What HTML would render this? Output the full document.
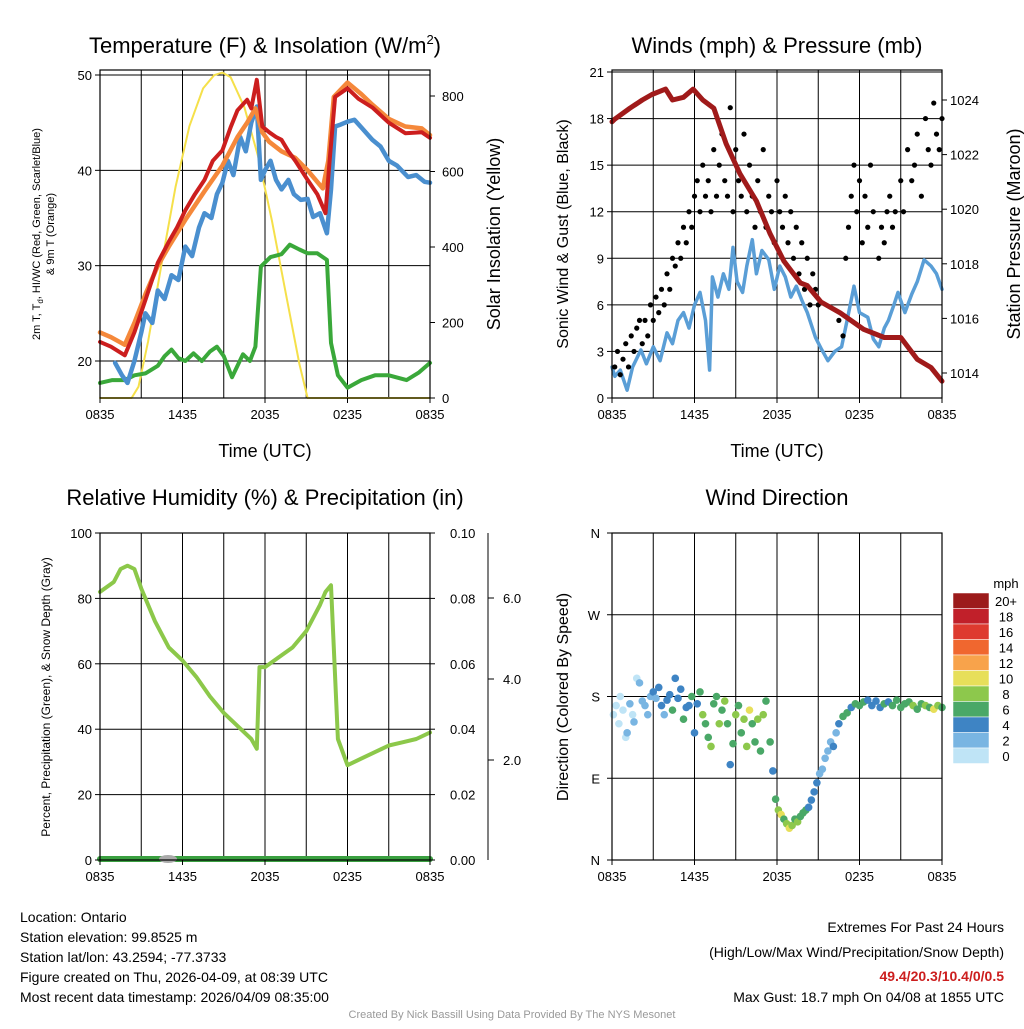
<!DOCTYPE html>
<html><head><meta charset="utf-8"><style>
body{margin:0;background:#fff}
svg{font-family:"Liberation Sans",sans-serif}
</style></head><body>
<svg id="s" width="1024" height="1024" viewBox="0 0 1024 1024"></svg>
<script>
// ---------- DATA ----------
const tempRedT=[0,0.8,1.8,2.5,3.3,4.2,5,5.6,6.2,6.9,7.6,8.2,8.9,9.5,10,10.7,11,11.4,11.8,12.3,12.8,13.2,13.7,14.2,15.1,15.8,16.4,16.7,17.1,18,18.8,19.8,21,22.2,23.4,24];
const tempRedV=[22,21.5,20.6,23,26.4,30.3,32.5,34,35.8,37.5,39,41,42.1,44.5,46.3,47.4,46.5,49.5,44.6,44,43.5,43.2,42,41,39,37.5,35.5,41,47.7,48.6,47.5,46.6,45,43.9,44,43.4];
const tempOrT=[0,0.8,1.8,2.5,3.3,4.2,5,6.2,7.6,8.9,10,10.7,11.3,11.8,12.3,13.2,14.2,15.1,16.2,16.6,17,18,19,19.8,21,22.2,23.4,24];
const tempOrV=[23,22.5,21.7,24,27,30,32,34.8,37.8,40.5,43.5,45,46.5,44,43,42,41.3,40,38.1,41,47.7,49.2,48,46.9,45.4,44.6,44.4,43.7];
const tempBlT=[1.1,1.6,2,2.5,3,3.3,3.8,4.2,4.7,5.2,5.7,6.2,6.7,7.2,7.6,8.1,8.5,8.9,9.3,9.7,10.2,10.6,11,11.4,11.7,12,12.4,12.8,13.2,13.7,14.1,14.6,15.1,15.5,16,16.5,16.8,17.1,17.5,18,18.5,19,19.8,20.4,21,21.6,22.4,23,23.6,24];
const tempBlV=[19.8,18.5,17.7,20,23,25,24,27.4,26.5,29,28.5,32,31,34,35.5,35,37.5,38.7,41,39.5,43.5,42,45,46.7,39,40,41,39,38,39,37.5,36.9,37,35.1,35.5,33.4,38,44.6,44.8,45.1,45.3,44.5,43.2,42.5,41,40.5,39.3,39.5,38.8,38.7];
const tempGrT=[0,0.9,1.8,2.5,3.3,4.2,4.7,5.2,5.7,6.2,6.8,7.4,8,8.5,9,9.6,10,10.4,10.9,11.3,11.7,12.4,13.2,13.8,14.5,15.1,15.8,16.5,16.8,17.3,18,19,20,21,22.3,23.2,24];
const tempGrV=[17.7,18,18,18.5,18.7,19.5,20.5,21.2,20.3,20,20.8,20,21,21.5,20.5,18.3,19.5,20.7,20,21.5,29.9,30.9,31.2,32.2,31.7,31.3,31.3,30.6,21.9,18.5,17.2,18,18.5,18.5,18,18.8,19.8];
const insolT=[0,2.3,2.8,3.5,4.5,5.5,6.5,7.5,8.3,8.9,9.5,10.5,11.5,12.5,13.5,14.5,15.1,24];
const insolV=[0,0,30,150,360,560,720,820,855,862,850,770,640,470,280,90,0,0];
const sonicT=[0,0.2,0.6,1.1,1.5,2.1,2.5,3,3.5,4,4.4,4.8,5.2,5.6,6,6.4,6.8,7.1,7.3,7.7,8.1,8.5,8.8,9.1,9.5,9.8,10.2,10.5,10.9,11.4,11.8,12.2,12.6,13,13.4,13.8,14.2,14.8,15.2,15.7,16.2,16.7,17.1,17.6,18,18.6,19,19.4,19.8,20.1,20.5,20.8,21.3,21.8,22.2,22.7,23.2,23.6,24];
const sonicV=[2,1.4,1.8,0.5,2,3.1,2.2,3.3,2.4,4.2,3.5,5,5.5,4.5,6,6.8,5,1.8,7.8,6.5,8,7,9.7,7.5,6.8,8.5,10.2,8,9.5,8.9,7,8.5,7.8,6.5,7.2,6.3,5.5,3.9,3.2,2.4,3,3.3,5,7.2,5.5,5.2,3.8,3.3,4.5,5,6,6.8,5.5,6.7,7.5,8.9,8.5,8,7];
const presT=[0,0.2,1.3,2.2,2.9,3.9,4.4,5.2,5.9,6.6,7.4,8.3,9.3,10.5,11.5,12.5,13.7,14.2,15.2,16.6,18.3,19.8,21,22.2,23.2,24];
const presV=[1023.2,1023.3,1023.7,1024,1024.2,1024.4,1024,1024.1,1024.4,1024,1023.7,1022.4,1021.3,1020.3,1019.1,1018.1,1017.3,1017.2,1016.6,1016.2,1015.6,1015.3,1015.3,1014.5,1014.2,1013.7];
const gustT=[0.2,0.4,0.6,0.8,1,1.2,1.4,1.6,1.8,2,2.2,2.4,2.6,2.8,3,3.2,3.4,3.6,3.8,4,4.2,4.4,4.6,4.8,5,5.2,5.4,5.6,5.8,6,6.2,6.4,6.6,6.8,7,7.2,7.4,7.6,7.8,8,8.2,8.4,8.6,8.8,9,9.2,9.4,9.6,9.8,10,10.2,10.4,10.6,10.8,11,11.2,11.4,11.6,11.8,12,12.2,12.4,12.6,12.8,13,13.2,13.4,13.6,13.8,14,14.2,14.4,14.6,14.8,15,16.5,16.8,17,17.2,17.4,17.6,17.8,18,18.2,18.4,18.6,18.8,19,19.4,19.6,19.8,20,20.2,20.4,20.6,21,21.2,21.5,21.8,22,22.2,22.5,22.8,23,23.2,23.4,23.6,23.8,24];
const gustV=[2,3,1.5,2.5,3.5,2,4,3,4.5,5,3.5,5,4,6,5,6.5,5.5,7,6,8,7,9,8.5,10,9,11,10,12,11,13,14,12,15,13,14,12,16,13,15,17,14,13,18.7,12,16,14,13,17,12,15,13,11,14,12,16,11,13,12,10,14,12,11,13,10,12,9,11,8,10,7,9,6,8,7,6,5,4,9,11,13,15,12,14,10,13,11,15,12,9,11,10,12,13,11,12,14,12,16,14,15,17,13,18,16,15,19,17,16,18];
const rhT=[0,1,1.5,2,2.5,3,4,5,6,7,8,9,10,11,11.4,11.6,12,13,14,15,16,16.4,16.8,17.3,18,19,20,21,22,23,24];
const rhV=[82,85,89,90,89,83,73,65,61,56,50,45,41,37,34,59,59,62,65,70,78,82,84,37,29,31,33,35,36,37,39];
const dirT=[0.1,0.3,0.5,0.6,0.8,1,1.1,1.3,1.5,1.6,1.8,2,2.2,2.4,2.6,2.8,3,3.2,3.4,3.6,3.8,4,4.2,4.4,4.6,4.8,5,5.2,5.4,5.6,5.8,6,6.2,6.4,6.6,6.8,7,7.2,7.4,7.6,7.8,8,8.2,8.4,8.6,8.8,9,9.2,9.4,9.6,9.8,10,10.2,10.4,10.6,10.8,11,11.2,11.5,11.7,11.9,12.1,12.3,12.5,12.7,12.9,13.1,13.3,13.5,13.7,13.9,14.1,14.3,14.5,14.7,14.9,15.1,15.3,15.5,15.7,15.9,16.1,16.3,16.5,16.8,17.1,17.4,17.7,18,18.3,18.6,18.9,19.2,19.5,19.8,20.1,20.4,20.7,21,21.3,21.6,21.9,22.2,22.5,22.8,23.1,23.4,23.7,24];
const dirV=[160,170,150,180,165,135,140,172,160,152,200,195,175,170,160,180,185,178,190,170,160,176,182,165,200,178,188,155,168,170,180,140,172,185,160,150,135,125,172,180,150,165,175,150,105,128,160,170,140,155,125,165,150,130,155,120,160,175,130,98,67,55,50,45,40,35,38,45,42,48,52,55,58,66,75,85,95,100,112,120,130,125,140,150,158,162,168,172,170,174,176,170,175,168,172,174,170,176,168,172,174,170,166,172,170,168,166,170,168];
const dirS=[0,1,0,0,1,0,2,3,1,2,1,3,2,3,2,3,4,3,5,4,3,4,5,6,4,4,5,6,4,5,7,4,5,6,8,6,7,8,7,6,8,7,9,6,5,7,8,6,7,8,8,10,6,7,9,6,8,7,6,5,6,8,10,6,8,11,9,7,8,6,6,7,5,4,4,5,3,3,2,2,2,4,3,4,6,6,5,6,7,6,5,5,5,5,6,5,6,7,6,6,7,8,7,6,8,7,10,8,7];
const rhLeftTicks=[0,20,40,60,80,100];
const precipTicks=["0.00","0.02","0.04","0.06","0.08","0.10"];
const snowTicks=["2.0","4.0","6.0"];
const timeTicks=["0835","1435","2035","0235","0835"];
const windTicks=[0,3,6,9,12,15,18,21];
const presTicks=[1014,1016,1018,1020,1022,1024];
const dirTicks=["N","E","S","W","N"];
const cbLabels=["20+","18","16","14","12","10","8","6","4","2","0"];
const cbColors=["#9c1b1b","#c1202a","#de3a2f","#f0672f","#f8a34b","#e7df5a","#8dc84c","#4aa867","#3e84c4","#79b5e2","#bfe4f6"];
// ---------- HELPERS ----------
const S=document.getElementById('s');const NS='http://www.w3.org/2000/svg';
function el(tag,at,txt){const e=document.createElementNS(NS,tag);for(const k in at)e.setAttribute(k,at[k]);if(txt!==undefined)e.textContent=txt;S.appendChild(e);return e;}
function lin(d0,d1,r0,r1){return v=>r0+(v-d0)*(r1-r0)/(d1-d0);}
function panel(x0,x1,y0,y1,name){
  const r=el('rect',{x:x0,y:y0,width:x1-x0,height:y1-y0,fill:'none',stroke:'#000','stroke-width':1.2});
  
}
function grid(x0,x1,y0,y1,xs,ys){
  xs.forEach(x=>{const l=el('line',{x1:x,x2:x,y1:y0,y2:y1,stroke:'#000','stroke-width':1});});
  ys.forEach(y=>{const l=el('line',{x1:x0,x2:x1,y1:y,y2:y,stroke:'#000','stroke-width':1});});
}
function vx(x0,x1){return [1,2,3,4,5,6,7].map(i=>x0+i*(x1-x0)/8);}
function path(T,V,sx,sy,col,w,name){
  const d=T.map((t,i)=>(i?'L':'M')+sx(t).toFixed(1)+','+sy(V[i]).toFixed(1)).join('');
  const p=el('path',{d:d,fill:'none',stroke:col,'stroke-width':w,'stroke-linejoin':'round','stroke-linecap':'round'});
  
}
function txt(x,y,s,size,anchor,extra,name){
  const a=Object.assign({x:x,y:y,'font-size':size,'text-anchor':anchor||'start'},extra||{});
  const t=el('text',a,s);return t;
}
function xTicks(x0,x1,yb){
  timeTicks.forEach((s,i)=>{const x=x0+i*(x1-x0)/4;el('line',{x1:x,x2:x,y1:yb,y2:yb+5,stroke:'#000'});txt(x,yb+21,s,13,'middle',{},'x-tick-label');});
}
// ---------- PANEL 1: TEMPERATURE ----------
{const x0=100,x1=430,y0=70,y1=398;
const sx=lin(0,24,x0,x1),sy=lin(20,50,361,75),si=lin(0,800,398,96);
grid(x0,x1,y0,y1,vx(x0,x1),[20,30,40,50].map(sy));
path(insolT,insolV,sx,si,'#f5e04a',2,'insolation-line');
path(tempGrT,tempGrV,sx,sy,'#3aa83a',4,'dewpoint-line');
path(tempBlT,tempBlV,sx,sy,'#4a8fcf',4.5,'blue-temp-line');
path(tempOrT,tempOrV,sx,sy,'#f5883a',4.5,'orange-temp-line');
path(tempRedT,tempRedV,sx,sy,'#cc1e1e',4,'red-temp-line');
panel(x0,x1,y0,y1,'temperature-panel');
[20,30,40,50].forEach(v=>{el('line',{x1:x0-5,x2:x0,y1:sy(v),y2:sy(v),stroke:'#000'});txt(x0-8,sy(v)+5,String(v),13,'end',{},'y-tick-label');});
[0,200,400,600,800].forEach(v=>{el('line',{x1:x1,x2:x1+5,y1:si(v),y2:si(v),stroke:'#000'});txt(x1+12,si(v)+5,String(v),13,'start',{},'y2-tick-label');});
xTicks(x0,x1,y1);
const t=txt(265,53,'Temperature (F) & Insolation (W/m',22,'middle',{},'temperature-title');
const ts=document.createElementNS(NS,'tspan');ts.setAttribute('font-size',13);ts.setAttribute('dy',-9);ts.textContent='2';t.appendChild(ts);
const ts2=document.createElementNS(NS,'tspan');ts2.setAttribute('dy',9);ts2.textContent=')';t.appendChild(ts2);
txt(265,457,'Time (UTC)',18,'middle',{},'x-axis-title');
const yt=txt(0,0,'2m T, T',11,'middle',{transform:'translate(40,234) rotate(-90)'},'y-axis-title');
const sub=document.createElementNS(NS,'tspan');sub.setAttribute('font-size',8);sub.setAttribute('dy',3);sub.textContent='d';yt.appendChild(sub);
const rest=document.createElementNS(NS,'tspan');rest.setAttribute('dy',-3);rest.textContent=', HI/WC (Red, Green, Scarlet/Blue)';yt.appendChild(rest);
txt(0,0,'& 9m T (Orange)',11,'middle',{transform:'translate(54,234) rotate(-90)'},'y-axis-title-2');
txt(0,0,'Solar Insolation (Yellow)',18,'middle',{transform:'translate(500,234) rotate(-90)'},'y2-axis-title');
}
// ---------- PANEL 2: WINDS ----------
{const x0=612,x1=942,y0=70,y1=398;
const sx=lin(0,24,x0,x1),sy=lin(0,21,398,72),sp=lin(1014,1024,373,100);
grid(x0,x1,y0,y1,vx(x0,x1),windTicks.slice(1).map(sy));
path(sonicT,sonicV,sx,sy,'#5a9ed6',3.5,'sonic-wind-line');
gustT.forEach((t,i)=>{const c=el('circle',{cx:sx(t),cy:sy(gustV[i]),r:2.6,fill:'#000'});});
path(presT,presV,sx,sp,'#a01a1a',5,'pressure-line');
panel(x0,x1,y0,y1,'winds-panel');
windTicks.forEach(v=>{el('line',{x1:x0-5,x2:x0,y1:sy(v),y2:sy(v),stroke:'#000'});txt(x0-8,sy(v)+5,String(v),13,'end',{},'y-tick-label');});
presTicks.forEach(v=>{el('line',{x1:x1,x2:x1+5,y1:sp(v),y2:sp(v),stroke:'#000'});txt(x1+8,sp(v)+5,String(v),13,'start',{},'y2-tick-label');});
xTicks(x0,x1,y1);
txt(777,53,'Winds (mph) & Pressure (mb)',22,'middle',{},'winds-title');
txt(777,457,'Time (UTC)',18,'middle',{},'x-axis-title');
txt(0,0,'Sonic Wind & Gust (Blue, Black)',16,'middle',{transform:'translate(568,234) rotate(-90)'},'y-axis-title');
txt(0,0,'Station Pressure (Maroon)',18,'middle',{transform:'translate(1020,234) rotate(-90)'},'y2-axis-title');
}
// ---------- PANEL 3: RH ----------
{const x0=100,x1=430,y0=533,y1=860;
const sx=lin(0,24,x0,x1),sy=lin(0,100,860,533);
grid(x0,x1,y0,y1,vx(x0,x1),[20,40,60,80].map(sy));
path(rhT,rhV,sx,sy,'#8cc84a',4,'rh-line');
path([0,24],[0.3,0.3],sx,sy,'#3aa040',6,'precip-line');
el('ellipse',{cx:168,cy:859,rx:9,ry:4,fill:'#aaa'});
panel(x0,x1,y0,y1,'rh-panel');
rhLeftTicks.forEach(v=>{el('line',{x1:x0-5,x2:x0,y1:sy(v),y2:sy(v),stroke:'#000'});txt(x0-8,sy(v)+5,String(v),13,'end',{},'y-tick-label');});
precipTicks.forEach((s,i)=>{const y=sy(i*20);el('line',{x1:x1,x2:x1+5,y1:y,y2:y,stroke:'#000'});txt(x1+20,y+5,s,13,'start',{},'y2-tick-label');});
el('line',{x1:488,x2:488,y1:533,y2:860,stroke:'#000'});
const ss=lin(2,6,760,598);
snowTicks.forEach(s=>{const y=ss(parseFloat(s));el('line',{x1:488,x2:494,y1:y,y2:y,stroke:'#000'});txt(503,y+5,s,13,'start',{},'y3-tick-label');});
xTicks(x0,x1,y1);
txt(265,505,'Relative Humidity (%) & Precipitation (in)',22,'middle',{},'rh-title');
txt(0,0,'Percent, Precipitation (Green), & Snow Depth (Gray)',12,'middle',{transform:'translate(50,697) rotate(-90)'},'y-axis-title');
}
// ---------- PANEL 4: WIND DIRECTION ----------
{const x0=612,x1=942,y0=533,y1=860;
const sx=lin(0,24,x0,x1),sy=lin(0,360,860,533);
grid(x0,x1,y0,y1,vx(x0,x1),[90,180,270].map(sy));
dirT.forEach((t,i)=>{const k=Math.max(0,Math.min(10,Math.floor(dirS[i]/2)));const c=el('circle',{cx:sx(t),cy:sy(dirV[i]),r:3.8,fill:cbColors[10-k]});});
panel(x0,x1,y0,y1,'direction-panel');
dirTicks.forEach((s,i)=>{const y=sy(i*90);el('line',{x1:x0-5,x2:x0,y1:y,y2:y,stroke:'#000'});txt(x0-12,y+5,s,13,'end',{},'y-tick-label');});
xTicks(x0,x1,y1);
txt(777,505,'Wind Direction',22,'middle',{},'direction-title');
txt(0,0,'Direction (Colored By Speed)',16,'middle',{transform:'translate(568,697) rotate(-90)'},'y-axis-title');
txt(1006,588,'mph',13,'middle',{},'colorbar-title');
cbColors.forEach((c,i)=>{const y=593+i*15.5;const r=el('rect',{x:953,y:y,width:36,height:15.5,fill:c,stroke:'#fff','stroke-width':0.5});txt(1006,y+13,cbLabels[i],13,'middle',{},'colorbar-label');});
}
// ---------- FOOTER ----------
['Location: Ontario','Station elevation: 99.8525 m','Station lat/lon: 43.2594; -77.3733','Figure created on Thu, 2026-04-09, at 08:39 UTC','Most recent data timestamp: 2026/04/09 08:35:00'].forEach((s,i)=>txt(20,922+i*20,s,14,'start',{},'station-info'));
txt(1004,932,'Extremes For Past 24 Hours',14,'end',{},'extremes-title');
txt(1004,957,'(High/Low/Max Wind/Precipitation/Snow Depth)',14,'end',{},'extremes-subtitle');
txt(1004,981,'49.4/20.3/10.4/0/0.5',14,'end',{fill:'#cc1e1e','font-weight':'bold'},'extremes-values');
txt(1004,1002,'Max Gust: 18.7 mph On 04/08 at 1855 UTC',14,'end',{},'max-gust');
txt(512,1018,'Created By Nick Bassill Using Data Provided By The NYS Mesonet',11,'middle',{fill:'#999'},'credit');
</script>
</body></html>
